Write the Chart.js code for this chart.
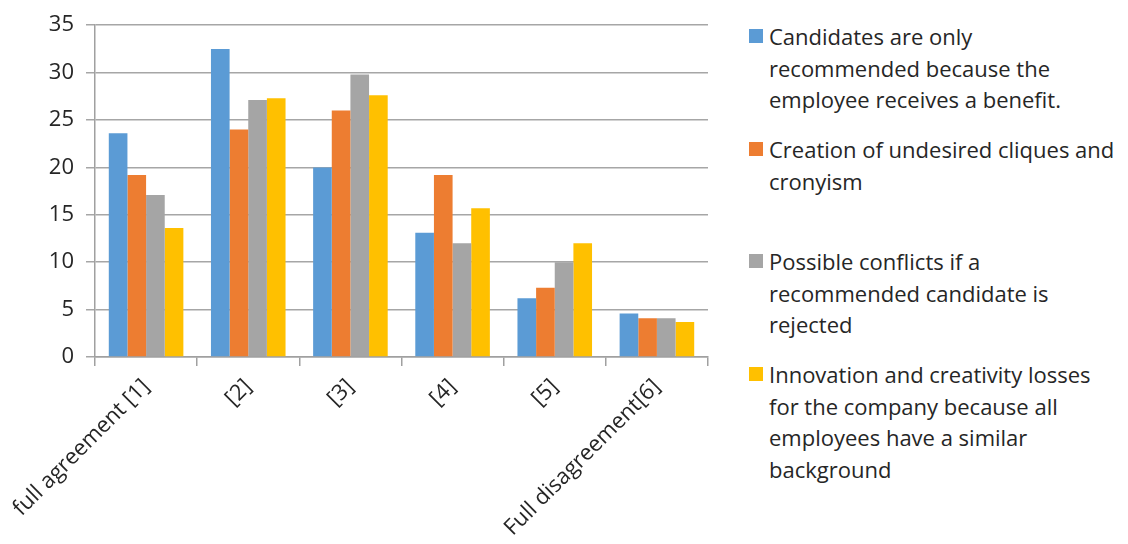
<!DOCTYPE html>
<html>
<head>
<meta charset="utf-8">
<script src="https://cdn.jsdelivr.net/npm/chart.js@4"></script>
<style>
  body { margin: 0; background: #fff; font-family: "Open Sans", sans-serif; }
  #wrap { position: relative; width: 1128px; height: 544px; }
  #chartBox { position: absolute; left: 0; top: 0; width: 720px; height: 544px; }
  .legend-item { position: absolute; left: 749px; width: 379px; font-size: 22px; line-height: 31.5px; color: #262626; padding-left: 20px; white-space: nowrap; }
  .legend-item .swatch { position: absolute; left: 0; top: 8px; width: 14px; height: 14px; }
</style>
</head>
<body>
<div id="wrap">
  <div id="chartBox"><canvas id="barChart"></canvas></div>
  <div id="legend"></div>
</div>
<script>
// Data
const categories = ['full agreement [1]', '[2]', '[3]', '[4]', '[5]', 'Full disagreement[6]'];
const seriesNames = [
    'Candidates are only recommended because the employee receives a benefit.',
    'Creation of undesired cliques and cronyism',
    'Possible conflicts if a recommended candidate is rejected',
    'Innovation and creativity losses for the company because all employees have a similar background'
];
// legend line breaks as in the picture
const legendLines = [
    ['Candidates are only', 'recommended because the', 'employee receives a benefit.'],
    ['Creation of undesired cliques and', 'cronyism'],
    ['Possible conflicts if a', 'recommended candidate is', 'rejected'],
    ['Innovation and creativity losses', 'for the company because all', 'employees have a similar', 'background']
];
const benefitValues = [23.6, 32.5, 20.0, 13.1, 6.2, 4.6];
const cliquesValues = [19.2, 24.0, 26.0, 19.2, 7.3, 4.1];
const conflictValues = [17.1, 27.1, 29.8, 12.0, 10.0, 4.1];
const innovationValues = [13.6, 27.3, 27.6, 15.7, 12.0, 3.7];
const yTicks = [0, 5, 10, 15, 20, 25, 30, 35];

const colors = ['#5b9bd5', '#ed7d31', '#a5a5a5', '#ffc000'];
const legendTops = [21, 134, 246, 359];

function buildLegend() {
    const legend = document.getElementById('legend');
    legendLines.forEach((lines, i) => {
        const item = document.createElement('div');
        item.className = 'legend-item';
        item.style.top = legendTops[i] + 'px';
        item.title = seriesNames[i];
        item.innerHTML = '<span class="swatch" style="background:' + colors[i] + '"></span>' + lines.join('<br>');
        legend.appendChild(item);
    });
}

function initializeChart() {
    const ctx = document.getElementById('barChart').getContext('2d');
    const allValues = [benefitValues, cliquesValues, conflictValues, innovationValues];
    return new Chart(ctx, {
        type: 'bar',
        data: {
            labels: categories,
            datasets: allValues.map((vals, i) => ({
                label: seriesNames[i],
                data: vals,
                backgroundColor: colors[i],
                categoryPercentage: 0.73,
                barPercentage: 1.0
            }))
        },
        options: {
            responsive: true,
            maintainAspectRatio: false,
            animation: false,
            layout: {
                padding: { top: 13, right: 12, left: 0, bottom: 0 }
            },
            scales: {
                y: {
                    min: 0,
                    max: 35,
                    afterBuildTicks: (scale) => {
                        scale.ticks = yTicks.map(v => ({ value: v }));
                    },
                    afterFit: (scale) => { scale.width = 95; },
                    border: { display: true, color: '#a0a0a0', width: 1.5 },
                    grid: {
                        color: '#a6a6a6',
                        lineWidth: 1.5,
                        tickLength: 9
                    },
                    ticks: {
                        color: '#262626',
                        padding: 12,
                        font: { family: 'Open Sans', size: 22 }
                    }
                },
                x: {
                    afterFit: (scale) => { scale.height = 187; },
                    border: { display: true, color: '#a0a0a0', width: 1.5 },
                    grid: {
                        offset: true,
                        drawOnChartArea: false,
                        color: '#a0a0a0',
                        lineWidth: 1.5,
                        tickLength: 9
                    },
                    ticks: {
                        color: '#262626',
                        minRotation: 45,
                        maxRotation: 45,
                        padding: 8,
                        font: { family: 'Open Sans', size: 22 }
                    }
                }
            },
            plugins: {
                legend: { display: false },
                tooltip: { enabled: false }
            }
        }
    });
}

document.addEventListener('DOMContentLoaded', () => {
    buildLegend();
    initializeChart();
});
</script>
</body>
</html>
